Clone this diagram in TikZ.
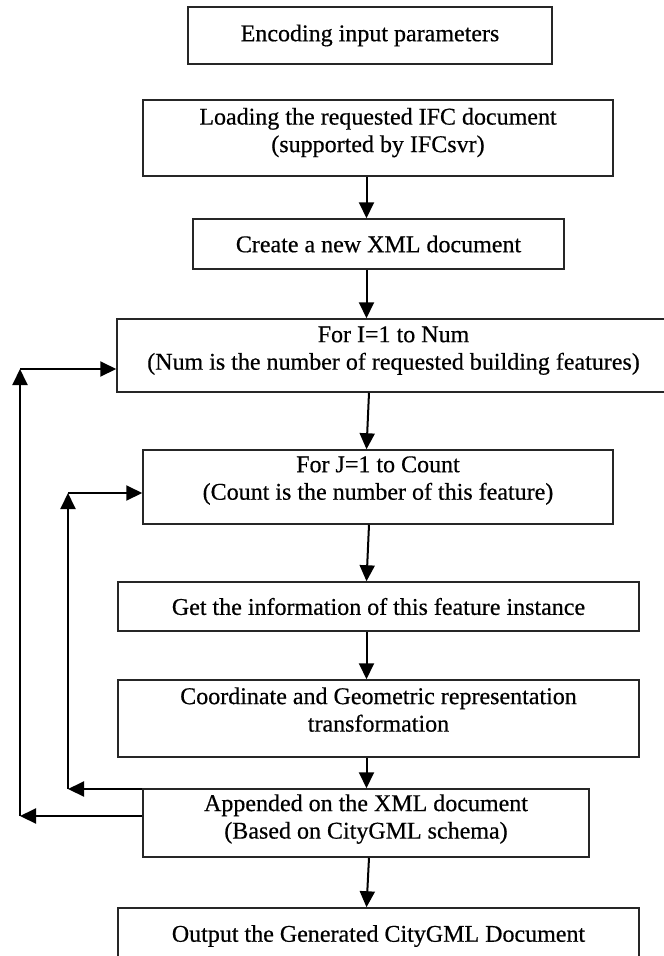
\documentclass[tikz,border=0pt]{standalone}
\usepackage{fontspec}
\setmainfont{Liberation Serif}
\newfontfamily\boxfont[FakeBold=0.5]{Liberation Serif}
\usetikzlibrary{arrows.meta}
\begin{document}
\begin{tikzpicture}[x=1pt,y=-1pt,
  box/.style={draw=black!85, line width=1.5pt, rectangle, align=center, inner sep=2pt,
              font=\boxfont\fontsize{24}{27.5}\selectfont},
  arr/.style={draw=black, line width=2pt, -{Triangle[length=16pt,width=15pt]}}]
\useasboundingbox (0,0) rectangle (664,956);
\clip (0,0) rectangle (664,956);
\fill[white] (0,0) rectangle (664,956);

\node[box, minimum width=364pt, minimum height=57pt] (b1) at (370,35.5) {Encoding input parameters};
\node[box, minimum width=470pt, minimum height=76pt, text depth=16pt] (b2) at (378,138)
  {Loading the requested IFC document\\(supported by IFCsvr)};
\node[box, minimum width=371pt, minimum height=50pt] (b3) at (378.5,244) {Create a new XML document};
\node[box, minimum width=553pt, minimum height=73pt, text depth=15pt] (b4) at (393.5,355.5)
  {For I=1 to Num\\(Num is the number of requested building features)};
\node[box, minimum width=470pt, minimum height=74pt, text depth=18pt] (b5) at (378,487)
  {For J=1 to Count\\(Count is the number of this feature)};
\node[box, minimum width=521pt, minimum height=49pt] (b6) at (378.5,606.5) {Get the information of this feature instance};
\node[box, minimum width=521pt, minimum height=77pt, text depth=18pt] (b7) at (378.5,718.5)
  {Coordinate and Geometric representation\\transformation};
\node[box, minimum width=446pt, minimum height=68pt, text depth=13pt] (b8) at (366,823)
  {Appended on the XML document\\(Based on CityGML schema)};
\node[box, minimum width=521pt, minimum height=56pt] (b9) at (378.5,936) {Output the Generated CityGML Document};

\coordinate (ax) at (366.5,0);
\coordinate (axa) at (369,0);
\draw[arr] (b2.south -| ax) -- (b3.north -| ax);
\draw[arr] (b3.south -| ax) -- (b4.north -| ax);
\draw[arr] (b4.south -| axa) -- (b5.north -| ax);
\draw[arr] (b5.south -| axa) -- (b6.north -| ax);
\draw[arr] (b6.south -| ax) -- (b7.north -| ax);
\draw[arr] (b7.south -| ax) -- (b8.north -| ax);
\draw[arr] (b8.south -| axa) -- (b9.north -| ax);

% inner loop
\coordinate (i1) at (68,789);
\coordinate (i2) at (68,493);
\draw[arr] (b8.west |- i1) -- (i1);
\draw[arr] (i1) -- (i2);
\draw[arr] (i2) -- (i2 -| b5.west);
% outer loop
\coordinate (o1) at (20,816);
\coordinate (o2) at (20,369);
\draw[arr] (b8.west |- o1) -- (o1);
\draw[arr] (o1) -- (o2);
\draw[arr] (o2) -- (o2 -| b4.west);
\end{tikzpicture}
\end{document}
